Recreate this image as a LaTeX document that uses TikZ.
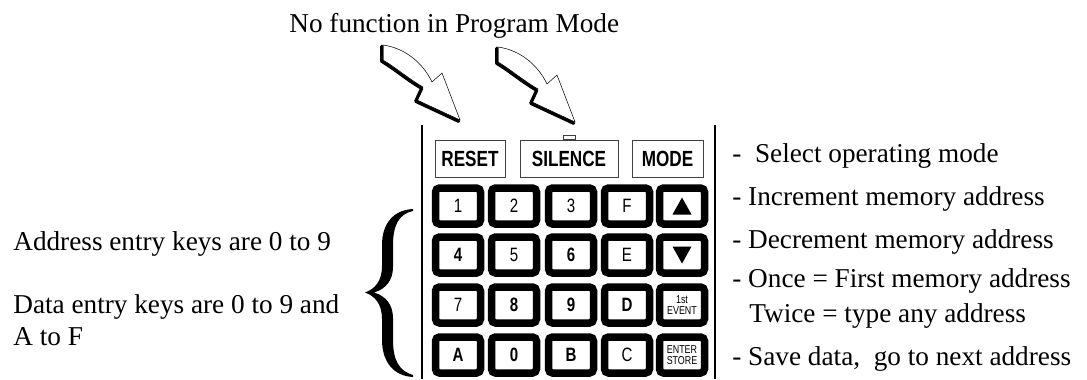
\documentclass[tikz,border=0pt]{standalone}
\usepackage{fontspec}
\setmainfont{Liberation Serif}
\newfontfamily\keyfont[FakeStretch=0.78]{Liberation Sans}
\tikzset{
  keycap/.style={draw, line width=0.15cm, rounded corners=0.08cm, minimum width=0.9cm,
    minimum height=0.72cm, inner sep=0pt, font=\keyfont\fontsize{11}{11}\selectfont},
  tinycap/.style={keycap, align=center, font=\keyfont\fontsize{6.5}{6.3}\selectfont},
  modekey/.style={draw=black!75, line width=0.5pt, minimum height=0.74cm, inner sep=0pt,
    font=\keyfont\bfseries\fontsize{12.5}{12.5}\selectfont},
  note/.style={anchor=base west, inner sep=0pt, font=\fontsize{15.5}{18}\selectfont},
}
% hollow bent arrow, tail corner at #1
\newcommand\bentarrow[1]{%
  \begin{scope}[shift={#1}]
    \filldraw[fill=white, line width=0.3pt] (0,0) .. controls (22,3) and (40,18) .. (49,37)
      -- (59,28) -- (77,75) -- (34,55) -- (40,42) .. controls (26,34) and (12,22) .. (0,15) -- cycle;
    \draw[line width=0.065cm, line join=round, line cap=round, shift={(-1.3,1.3)}] (0,0) -- (0,15)
      .. controls (12,22) and (26,34) .. (40,42) -- (34,55) -- (77,75);
  \end{scope}}

\begin{document}
\begin{tikzpicture}[x=0.02cm, y=-0.02cm]
  \useasboundingbox (0,0) rectangle (1087,379);

  \node[note] (title) at (289,32) {No function in Program Mode};
  \bentarrow{(383,45)}
  \bentarrow{(498,47)}

  % keypad panel
  \draw[line width=0.6pt] (422,125) -- (422,379);
  \draw[line width=0.6pt] (715,125) -- (715,379);

  \node[modekey, minimum width=1.4cm] (reset) at (470,158.5) {RESET};
  \node[modekey, minimum width=1.96cm] (silence) at (569,158.5) {SILENCE};
  \node[modekey, minimum width=1.42cm] (mode) at (667.5,158.5) {MODE};
  \draw[draw=black!75, line width=0.5pt] ([xshift=-0.12cm]silence.north) rectangle ([xshift=0.12cm,yshift=0.08cm]silence.north);

  \node[keycap] (k11) at (458,206) {1};
  \node[keycap] (k12) at (514,206) {2};
  \node[keycap] (k13) at (571,206) {3};
  \node[keycap] (k14) at (627,206) {F};
  \node[keycap] (k15) at (682,206) {};
  \node[keycap] (k21) at (458,255) {\bfseries 4};
  \node[keycap] (k22) at (514,255) {5};
  \node[keycap] (k23) at (571,255) {\bfseries 6};
  \node[keycap] (k24) at (627,255) {E};
  \node[keycap] (k25) at (682,255) {};
  \node[keycap] (k31) at (458,305) {7};
  \node[keycap] (k32) at (514,305) {\bfseries 8};
  \node[keycap] (k33) at (571,305) {\bfseries 9};
  \node[keycap] (k34) at (627,305) {\bfseries D};
  \node[tinycap] (k35) at (682,305) {1st\\EVENT};
  \node[keycap] (k41) at (458,355) {\bfseries A};
  \node[keycap] (k42) at (514,355) {\bfseries 0};
  \node[keycap] (k43) at (571,355) {\bfseries B};
  \node[keycap] (k44) at (627,355) {C};
  \node[tinycap] (k45) at (682,355) {ENTER\\STORE};
  \fill ([shift={(-9.5,8.5)}]k15.center) -- ++(19,0) -- ++(-9.5,-17) -- cycle;
  \fill ([shift={(-9.5,-8.5)}]k25.center) -- ++(19,0) -- ++(-9.5,17) -- cycle;

  % brace over the number keys
  \fill (413,209) .. controls (393,210) and (382,224) .. (382,245) -- (382,266)
    .. controls (382,281) and (375,289) .. (365,292.5)
    .. controls (375,296) and (382,304) .. (382,319) -- (382,340)
    .. controls (382,361) and (393,376) .. (413,377) -- (413,375)
    .. controls (399,371) and (393,360) .. (393,340) -- (393,318)
    .. controls (393,305) and (386,296) .. (374,292.5)
    .. controls (386,289) and (393,280) .. (393,267) -- (393,245)
    .. controls (393,225) and (399,214) .. (413,211) -- cycle;

  % left notes
  \node[note] (addr) at (13,250) {Address entry keys are 0 to 9};
  \node[note] (data) at (13,313) {Data entry keys are 0 to 9 and};
  \node[note] (datb) at (13,345) {A to F};

  % right notes
  \node[note] (nmode) at (732,162) {-\ \ Select operating mode};
  \node[note] (nup) at (732,205) {- Increment memory address};
  \node[note] (ndown) at (732,248) {- Decrement memory address};
  \node[note] (nonce) at (732,287) {- Once = First memory address};
  \node[note] (ntwice) at (749,322) {Twice = type any address};
  \node[note] (nsave) at (732,365) {- Save data,\ \ go to next address};
\end{tikzpicture}
\end{document}
